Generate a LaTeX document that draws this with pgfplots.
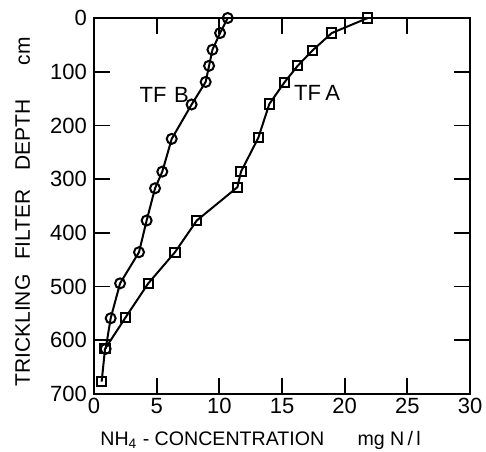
\documentclass[border=0pt]{standalone}
\usepackage{fontspec}
\setmainfont{Liberation Sans}
\usepackage{pgfplots}
\pgfplotsset{compat=1.18}
\begin{document}
\begin{tikzpicture}
\begin{axis}[
  name=ax,
  scale only axis,
  width=188pt, height=188pt,
  xmin=0, xmax=30, ymin=0, ymax=700,
  y dir=reverse,
  xtick={0,5,...,30}, ytick={0,100,...,700},
  tick align=inside, tick pos=both,
  major tick length=8pt,
  axis line style={line width=1pt},
  tick style={line width=0.9pt, black},
  /pgf/number format/assume math mode=true,
  ticklabel style={font=\fontsize{11}{12}\selectfont},
  xticklabel style={yshift=1.5pt},
  yticklabel style={xshift=0pt},
  clip=false,
]
\addplot[black, line width=1pt, mark=o, mark size=2.5pt, mark options={fill=white, line width=1pt}] coordinates {
(10.67,0) (10.06,28) (9.45,59) (9.18,89) (8.91,119) (7.79,161) (6.20,225) (5.45,286) (4.87,317) (4.20,377) (3.59,436) (2.08,494) (1.33,559) (0.93,616)
};
\addplot[black, line width=1pt, mark=square, mark size=2.3pt, mark options={fill=white, line width=1pt}] coordinates {
(21.84,0) (18.97,28) (17.45,60) (16.25,89) (15.19,120) (13.99,160) (13.11,223) (11.73,286) (11.44,315) (8.20,377) (6.46,436) (4.33,494) (2.53,557) (0.88,616) (0.61,677)
};
\node[font=\fontsize{11}{12}\selectfont] at (axis cs:5.6,143) {TF\hspace{0.35em}B};
\node[font=\fontsize{11}{12}\selectfont] at (axis cs:17.8,140) {TF\hspace{0.2em}A};
\node[font=\fontsize{9.8}{12}\selectfont, anchor=base west, inner sep=0pt] at ([xshift=3pt,yshift=-25.5pt]rel axis cs:0,0) {NH\textsubscript{4} - CONCENTRATION\hspace{1.7em}mg N\,/\,l};
\node[font=\fontsize{10.5}{12}\selectfont, rotate=90, anchor=base] at ([xshift=-32pt,yshift=-3pt]rel axis cs:0,0.5) {TRICKLING\hspace{0.7em}FILTER\hspace{0.9em}DEPTH\hspace{1.6em}cm};
\end{axis}
\pgfresetboundingbox
\path[use as bounding box] ([xshift=-47pt,yshift=-28.5pt]ax.south west) rectangle ([xshift=8pt,yshift=9pt]ax.north east);
\end{tikzpicture}
\end{document}
